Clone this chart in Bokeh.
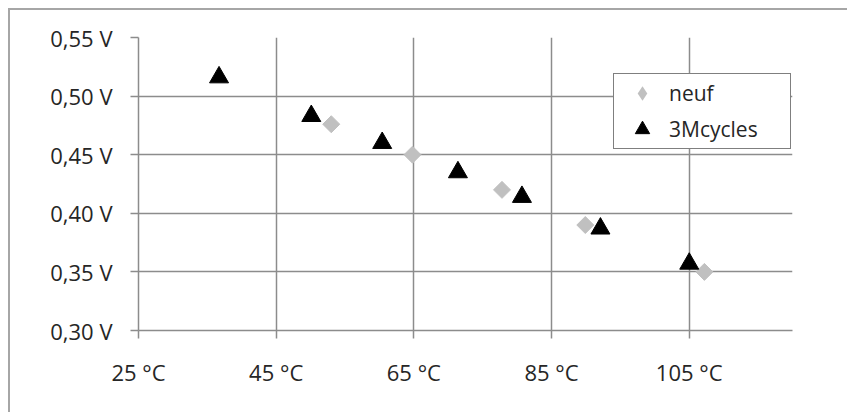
from bokeh.plotting import figure
from bokeh.models import (Range1d, FixedTicker, CustomJSTickFormatter, Legend, LegendItem)
from bokeh.embed import file_html
from bokeh.resources import INLINE
import math

# ---- data ----
neuf_temp = [53.0, 64.8, 77.8, 89.9, 107.2]
neuf_volt = [0.476, 0.450, 0.420, 0.390, 0.350]

cyc_temp = [36.7, 50.1, 71.4, 60.4, 80.7, 92.1, 105.0]
cyc_volt = [0.516, 0.483, 0.435, 0.460, 0.414, 0.387, 0.357]

x_ticks = [25, 45, 65, 85, 105]
y_ticks = [0.30, 0.35, 0.40, 0.45, 0.50, 0.55]

FONT = "Open Sans"
TXT = "#262626"
GRID = "#8c8c8c"

p = figure(width=839, height=404, output_backend="svg", toolbar_location=None,
           x_range=Range1d(25, 120), y_range=Range1d(0.30, 0.55),
           min_border_left=128, min_border_top=27, min_border_right=57, min_border_bottom=84)
p.styles = {"border-top": "2px solid #a6a6a6", "border-left": "2px solid #a6a6a6",
            "margin-top": "8px", "margin-left": "8px"}
p.outline_line_color = None
p.background_fill_color = "white"
p.border_fill_color = "white"

for ax in (p.xaxis[0], p.yaxis[0]):
    ax.axis_line_color = GRID
    ax.axis_line_width = 1.5
    ax.major_tick_line_color = GRID
    ax.major_tick_line_width = 1.5
    ax.major_tick_in = 0
    ax.major_tick_out = 8
    ax.minor_tick_line_color = None
    ax.major_label_text_font = FONT
    ax.major_label_text_font_size = "22px"
    ax.major_label_text_color = TXT

p.xaxis.ticker = FixedTicker(ticks=x_ticks)
p.yaxis.ticker = FixedTicker(ticks=y_ticks)
p.xaxis.formatter = CustomJSTickFormatter(code="return tick.toFixed(0) + ' °C';")
p.yaxis.formatter = CustomJSTickFormatter(code="return tick.toFixed(2).replace('.', ',') + ' V';")
p.xaxis.major_label_standoff = 18
p.yaxis.major_label_standoff = 18

p.xgrid.ticker = FixedTicker(ticks=x_ticks)
p.ygrid.ticker = FixedTicker(ticks=y_ticks)
p.grid.grid_line_color = GRID
p.grid.grid_line_width = 1.5

r_neuf = p.scatter(neuf_temp, neuf_volt, marker="square", size=12, angle=math.pi / 4,
                   fill_color="#c0c0c0", line_color="#c0c0c0")
r_cyc = p.scatter(cyc_temp, cyc_volt, marker="triangle", size=19,
                  fill_color="black", line_color="black")
# legend swatch for the grey diamonds (legend markers are drawn unrotated;
# size 0 so nothing extra appears in the plot, the legend sizes its own glyph)
r_neuf_key = p.scatter(neuf_temp, neuf_volt, marker="diamond", size=0,
                       fill_color="#c0c0c0", line_color=None)

legend = Legend(items=[LegendItem(label="neuf", renderers=[r_neuf_key]),
                       LegendItem(label="3Mcycles", renderers=[r_cyc])],
                location=(475, 181))
legend.label_text_font = FONT
legend.label_text_font_size = "21px"
legend.label_text_color = TXT
legend.border_line_color = "black"
legend.border_line_width = 1.5
legend.background_fill_color = "white"
legend.background_fill_alpha = 1
legend.padding = 1
legend.spacing = -2
legend.glyph_width = 54
legend.glyph_height = 36
legend.label_standoff = 0
legend.label_width = 120
legend.margin = 0
p.add_layout(legend)

open("out.html", "w").write(file_html(p, INLINE))
